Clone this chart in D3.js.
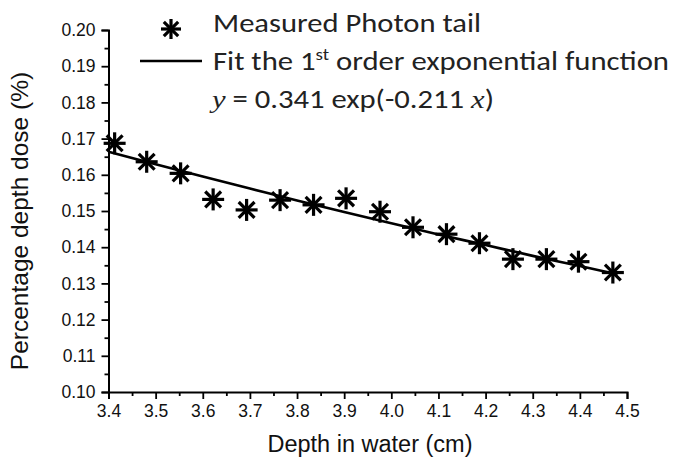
<!DOCTYPE html>
<html>
<head>
<meta charset="utf-8">
<script src="https://cdn.jsdelivr.net/npm/d3@7/dist/d3.min.js"></script>
<style>
  html, body { margin: 0; padding: 0; background: #fff; }
  svg { display: block; }
</style>
</head>
<body>
<script>
// ---- data ----
const depth = [3.413, 3.481, 3.553, 3.622, 3.693, 3.764, 3.835, 3.904, 3.976, 4.046, 4.117, 4.187, 4.258, 4.329, 4.397, 4.470];
const pdd   = [0.1687, 0.1636, 0.1604, 0.1532, 0.1503, 0.1530, 0.1517, 0.1535, 0.1498, 0.1455, 0.1436, 0.1411, 0.1367, 0.1367, 0.1360, 0.1330];
const fitDepth = [3.40, 3.50, 3.60, 3.70, 3.80, 3.90, 4.00, 4.10, 4.20, 4.30, 4.40, 4.48];
const fitPdd   = [0.1664, 0.1629, 0.1595, 0.1562, 0.1529, 0.1497, 0.1466, 0.1435, 0.1406, 0.1376, 0.1348, 0.1325];
const xTicks = [3.4, 3.5, 3.6, 3.7, 3.8, 3.9, 4.0, 4.1, 4.2, 4.3, 4.4, 4.5];
const yTicks = [0.10, 0.11, 0.12, 0.13, 0.14, 0.15, 0.16, 0.17, 0.18, 0.19, 0.20];
const legendLabels = ["Measured Photon tail", "Fit the 1", "st", " order exponential function"];

const W = 673, H = 459;
const svg = d3.select("body").append("svg").attr("width", W).attr("height", H);

const x = d3.scaleLinear().domain([3.4, 4.5]).range([108.5, 627]);
const y = d3.scaleLinear().domain([0.10, 0.20]).range([392, 30]);

const tickFont = "'Liberation Sans', Arial, sans-serif";

// minor ticks
const xMinor = d3.range(0, 11).map(i => 3.45 + i * 0.1);
const yMinor = d3.range(0, 10).map(i => 0.105 + i * 0.01);

const gx = svg.append("g").attr("transform", `translate(0,${y(0.10)})`);
gx.call(d3.axisBottom(x).tickValues(xTicks).tickFormat(d3.format(".1f")).tickSizeOuter(0).tickSize(7).tickPadding(6));
gx.append("g").call(d3.axisBottom(x).tickValues(xMinor).tickFormat("").tickSizeOuter(0).tickSize(4))
  .select(".domain").remove();

const gy = svg.append("g").attr("transform", `translate(${x(3.4)},0)`);
gy.call(d3.axisLeft(y).tickValues(yTicks).tickFormat(d3.format(".2f")).tickSizeOuter(0).tickSize(7).tickPadding(6));
gy.append("g").call(d3.axisLeft(y).tickValues(yMinor).tickFormat("").tickSizeOuter(0).tickSize(4))
  .select(".domain").remove();

svg.selectAll(".domain").attr("stroke", "#000").attr("stroke-width", 2);
svg.selectAll(".tick line").attr("stroke", "#000").attr("stroke-width", 1.8);
svg.selectAll(".tick text").attr("font-family", tickFont).attr("font-size", 17.5).attr("fill", "#111");

// axis titles
svg.append("text")
  .attr("x", 370).attr("y", 452)
  .attr("text-anchor", "middle")
  .attr("font-family", tickFont).attr("font-size", 23.5).attr("fill", "#111")
  .text("Depth in water (cm)");

svg.append("text")
  .attr("transform", `translate(28,221) rotate(-90)`)
  .attr("text-anchor", "middle")
  .attr("font-family", tickFont).attr("font-size", 24.5).attr("fill", "#111")
  .text("Percentage depth dose (%)");

// fit line
const line = d3.line().x((d, i) => x(fitDepth[i])).y(d => y(d)).curve(d3.curveMonotoneX);
svg.append("path").datum(fitPdd)
  .attr("d", line).attr("fill", "none").attr("stroke", "#000").attr("stroke-width", 2.6);

// star marker
function star(g, r, sw) {
  const d = r * 0.72;
  g.append("line").attr("x1", -r).attr("y1", 0).attr("x2", r).attr("y2", 0);
  g.append("line").attr("x1", 0).attr("y1", -r).attr("x2", 0).attr("y2", r);
  g.append("line").attr("x1", -d).attr("y1", -d).attr("x2", d).attr("y2", d);
  g.append("line").attr("x1", -d).attr("y1", d).attr("x2", d).attr("y2", -d);
  g.selectAll("line").attr("stroke", "#000").attr("stroke-width", sw);
}

svg.append("g").selectAll("g.pt").data(pdd).join("g")
  .attr("class", "pt")
  .attr("transform", (d, i) => `translate(${x(depth[i])},${y(d)})`)
  .each(function() { star(d3.select(this), 11, 3.2); });

// legend
const legFont = "Carlito, Lato, 'Open Sans', sans-serif";
star(svg.append("g").attr("transform", "translate(171,29)"), 10, 3.2);
svg.append("text").attr("x", 213).attr("y", 32)
  .attr("font-family", legFont).attr("font-size", 26).attr("fill", "#222")
  .attr("textLength", 268).attr("lengthAdjust", "spacingAndGlyphs")
  .text(legendLabels[0]);

svg.append("line").attr("x1", 140).attr("x2", 202).attr("y1", 61).attr("y2", 61)
  .attr("stroke", "#000").attr("stroke-width", 2.6);

const t2 = svg.append("text").attr("x", 213).attr("y", 70)
  .attr("font-family", legFont).attr("font-size", 26).attr("fill", "#222")
  .attr("textLength", 456).attr("lengthAdjust", "spacingAndGlyphs");
t2.append("tspan").text(legendLabels[1]);
t2.append("tspan").attr("font-size", 16).attr("dy", -10).text(legendLabels[2]);
t2.append("tspan").attr("dy", 10).text(legendLabels[3]);

const t3 = svg.append("text").attr("x", 212).attr("y", 108)
  .attr("font-family", legFont).attr("font-size", 26).attr("fill", "#222")
  .attr("textLength", 282).attr("lengthAdjust", "spacingAndGlyphs");
t3.append("tspan").attr("font-family", "'Liberation Serif', 'DejaVu Serif', serif").attr("font-style", "italic").text("y");
t3.append("tspan").text(" = 0.341 exp(-0.211 ");
t3.append("tspan").attr("font-family", "'Liberation Serif', 'DejaVu Serif', serif").attr("font-style", "italic").text("x");
t3.append("tspan").text(")");
</script>
</body>
</html>
